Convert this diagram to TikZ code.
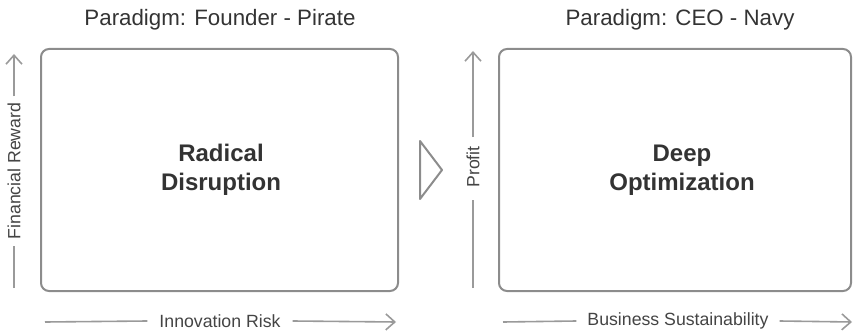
\documentclass[tikz,border=0pt]{standalone}
\usepackage{fontspec}
\setmainfont{Liberation Sans}
\usetikzlibrary{arrows.meta}
\definecolor{boxline}{HTML}{8C8C8C}
\definecolor{axisline}{HTML}{9A9A9A}
\definecolor{inktext}{HTML}{333333}
\definecolor{axistext}{HTML}{444444}
\begin{document}
\begin{tikzpicture}[x=1pt,y=-1pt,
  panel/.style={draw=boxline,line width=2pt,rounded corners=8pt},
  headline/.style={text=inktext,font=\fontsize{22.3}{26}\selectfont,inner sep=0pt},
  core/.style={text=inktext,font=\bfseries\fontsize{24}{29}\selectfont,align=center,inner sep=0pt},
  axislabel/.style={text=axistext,font=\fontsize{17.7}{21}\selectfont,inner sep=0pt},
  axis/.style={draw=axisline,line width=1.6pt},
  axisarrow/.style={axis,-{Straight Barb[length=9pt,width=16pt,line width=1.6pt]}},
  chevron/.style={draw=boxline,line width=2pt,line join=round}]
\useasboundingbox (0,0) rectangle (853,331);

% panels
\draw[panel] (41,49) rectangle (398,291);
\draw[panel] (499,49) rectangle (851,291);

% headings
\node[headline] (hl) at (220,20) {Paradigm: Founder - Pirate};
\node[headline] (hr) at (680,20) {Paradigm: CEO - Navy};

% panel captions
\node[core] (cl) at (221,170) {Radical\\Disruption};
\node[core] (cr) at (682,170) {Deep\\Optimization};

% transition chevron
\draw[chevron] (420,141) -- (442,170) -- (420,199) -- cycle;

% left panel axes (labels read bottom to top: west end is the lower one)
\coordinate (ly0) at (14,288);
\coordinate (ly1) at (14,54);
\node[axislabel,rotate=90] (lyl) at (14,171) {Financial Reward};
\draw[axis] (ly0) -- ([yshift=-6pt]lyl.west);
\draw[axisarrow] ([yshift=6pt]lyl.east) -- (ly1);

\coordinate (lx0) at (45,322);
\coordinate (lx1) at (396,322);
\node[axislabel] (lxl) at (220,321) {Innovation Risk};
\draw[axis] (lx0) -- ([xshift=-12pt]lxl.west);
\draw[axisarrow] ([xshift=12pt]lxl.east) -- (lx1);

% right panel axes
\coordinate (ry0) at (473,288);
\coordinate (ry1) at (473,51);
\node[axislabel,rotate=90] (ryl) at (473,167) {Profit};
\draw[axis] (ry0) -- ([yshift=-12pt]ryl.west);
\draw[axisarrow] ([yshift=9pt]ryl.east) -- (ry1);

\coordinate (rx0) at (503,322);
\coordinate (rx1) at (852,322);
\node[axislabel] (rxl) at (678,321) {Business Sustainability};
\draw[axis] (rx0) -- ([xshift=-11pt]rxl.west);
\draw[axisarrow] ([xshift=11pt]rxl.east) -- (rx1);
\end{tikzpicture}
\end{document}
